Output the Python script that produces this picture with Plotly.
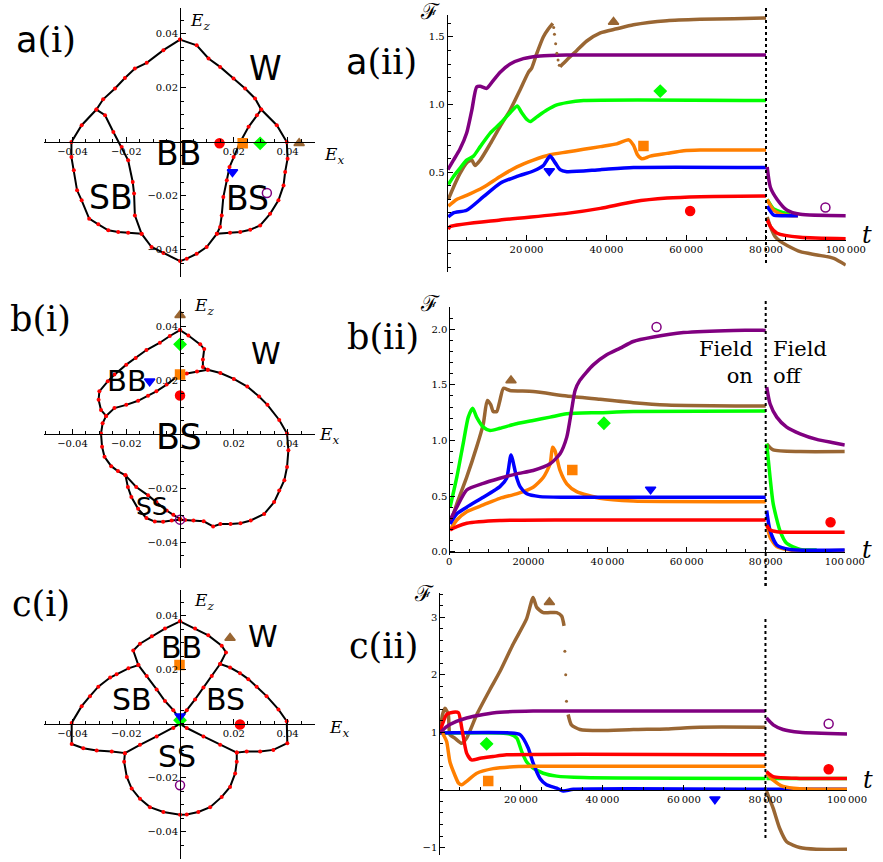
import plotly.graph_objects as go

W, H = 883, 862

RED = '#ff0000'
ORANGE = '#ff7f00'
GREEN = '#00ff00'
BLUE = '#0000ff'
PURPLE = '#800080'
BROWN = '#996633'

# order used for all field-point markers: red, orange, green, brown, blue, purple
MARKERS = [(RED, 'circle'), (ORANGE, 'square'), (GREEN, 'diamond'),
           (BROWN, 'triangle-up'), (BLUE, 'triangle-down'), (PURPLE, 'circle-open')]

# ---------------- a(i): phase boundaries (Ex, Ez) ----------------
a_outer = [(0, 0.0379), (-0.0062, 0.0340), (-0.0124, 0.0293), (-0.0168, 0.0272), (-0.0205, 0.0237),
           (-0.0242, 0.0198), (-0.0286, 0.0158), (-0.0311, 0.0120), (-0.0366, 0.0062), (-0.0404, 0),
           (-0.0404, -0.0056), (-0.0395, -0.0105), (-0.0383, -0.0179), (-0.0366, -0.0216),
           (-0.0338, -0.0284), (-0.0304, -0.0305), (-0.0267, -0.0327), (-0.0230, -0.0333),
           (-0.0193, -0.0336), (-0.0143, -0.0340), (-0.0106, -0.0389), (-0.0062, -0.0411),
           (0, -0.0441), (0.0025, -0.0432), (0.0062, -0.0414), (0.0099, -0.0389), (0.0137, -0.0340),
           (0.0186, -0.0336), (0.0224, -0.0333), (0.0261, -0.0325), (0.0298, -0.0309),
           (0.0335, -0.0266), (0.0366, -0.0216), (0.0385, -0.0161), (0.0391, -0.0111),
           (0.0400, -0.0062), (0.0397, 0), (0.0360, 0.0062), (0.0302, 0.0120), (0.0279, 0.0161),
           (0.0242, 0.0198), (0.0199, 0.0235), (0.0149, 0.0278), (0.0106, 0.0309),
           (0.0062, 0.0358), (0, 0.0379)]
a_inner_left = [(-0.0311, 0.0120), (-0.0279, 0.0099), (-0.0248, 0.0037), (-0.0217, -0.0019),
                (-0.0193, -0.0068), (-0.0176, -0.0148), (-0.0171, -0.0191), (-0.0168, -0.0272),
                (-0.0143, -0.0340)]
a_inner_right = [(0.0302, 0.0120), (0.0286, 0.0099), (0.0255, 0.0056), (0.0224, 0), (0.0199, -0.0056),
                 (0.0184, -0.0093), (0.0174, -0.0142), (0.0161, -0.0204), (0.0155, -0.0272),
                 (0.0149, -0.0315), (0.0137, -0.0340)]
a_pts_x = [0.0147, 0.0233, 0.0298, 0.0443, 0.0195, 0.0323]
a_pts_y = [-0.0005, -0.0005, -0.0005, -0.0005, -0.0111, -0.0189]

# ---------------- b(i) ----------------
b_outer = [(0, 0.0385), (0.0031, 0.0365), (0.0075, 0.0332), (0.0090, 0.0315), (0.0085, 0.0276),
           (0.0085, 0.0248), (0.0103, 0.0238), (0.0150, 0.0226), (0.0200, 0.0204), (0.0250, 0.0176),
           (0.0294, 0.0139), (0.0325, 0.0108), (0.0369, 0.0052), (0.0398, 0.0002), (0.0403, -0.0060),
           (0.0398, -0.0122), (0.0388, -0.0171), (0.0369, -0.0209), (0.0350, -0.0252),
           (0.0313, -0.0296), (0.0263, -0.0320), (0.0225, -0.0330), (0.0188, -0.0333),
           (0.0150, -0.0333), (0.0123, -0.0342), (0.0088, -0.0323), (0.0050, -0.0320),
           (0.0019, -0.0318), (0, -0.0317), (-0.0031, -0.0320), (-0.0063, -0.0325),
           (-0.0094, -0.0324), (-0.0125, -0.0311), (-0.0156, -0.0277), (-0.0181, -0.0233),
           (-0.0194, -0.0196), (-0.0203, -0.0153), (-0.0231, -0.0137), (-0.0256, -0.0119),
           (-0.0281, -0.0084), (-0.0290, -0.0047), (-0.0294, 0.0002), (-0.0288, 0.0040),
           (-0.0275, 0.0067), (-0.0294, 0.0089), (-0.0303, 0.0127), (-0.0300, 0.0158),
           (-0.0269, 0.0195), (-0.0244, 0.0220), (-0.0200, 0.0257), (-0.0165, 0.0282),
           (-0.0125, 0.0311), (-0.0075, 0.0338), (-0.0038, 0.0363), (0, 0.0385)]
b_inner_bb = [(-0.0275, 0.0067), (-0.0244, 0.0096), (-0.0200, 0.0108), (-0.0156, 0.0123),
              (-0.0119, 0.0142), (-0.0088, 0.0158), (-0.0050, 0.0183), (-0.0013, 0.0211),
              (0.0025, 0.0224), (0.0063, 0.0232), (0.0103, 0.0238)]
b_inner_ss = [(-0.0203, -0.0153), (-0.0163, -0.0196), (-0.0119, -0.0227), (-0.0088, -0.0252),
              (-0.0050, -0.0283), (-0.0025, -0.0299), (0, -0.0314)]
b_pts_x = [0, 0, 0, 0, -0.0113, 0]
b_pts_y = [0.0143, 0.0220, 0.0332, 0.0440, 0.0195, -0.0317]

# ---------------- c(i) ----------------
c_outer = [(0, 0.0380), (0.0056, 0.0353), (0.0105, 0.0328), (0.0155, 0.0290), (0.0171, 0.0265),
           (0.0149, 0.0222), (0.0186, 0.0209), (0.0223, 0.0188), (0.0254, 0.0166), (0.0285, 0.0138),
           (0.0322, 0.0103), (0.0366, 0.0054), (0.0397, 0.0010), (0.0399, -0.0071),
           (0.0347, -0.0096), (0.0298, -0.0102), (0.0248, -0.0102), (0.0211, -0.0106),
           (0.0211, -0.0140), (0.0205, -0.0183), (0.0186, -0.0233), (0.0155, -0.0270),
           (0.0112, -0.0308), (0.0068, -0.0326), (0.0025, -0.0335), (0, -0.0336),
           (-0.0062, -0.0326), (-0.0112, -0.0308), (-0.0149, -0.0277), (-0.0180, -0.0239),
           (-0.0198, -0.0196), (-0.0208, -0.0140), (-0.0205, -0.0108), (-0.0254, -0.0102),
           (-0.0310, -0.0098), (-0.0360, -0.0090), (-0.0403, -0.0074), (-0.0403, 0.0004),
           (-0.0366, 0.0066), (-0.0335, 0.0103), (-0.0304, 0.0138), (-0.0260, 0.0172),
           (-0.0236, 0.0184), (-0.0192, 0.0206), (-0.0155, 0.0218), (-0.0174, 0.0272),
           (-0.0149, 0.0297), (-0.0105, 0.0325), (-0.0056, 0.0353), (0, 0.0380)]
c_inner_bb_left = [(-0.0155, 0.0218), (-0.0124, 0.0178), (-0.0087, 0.0128), (-0.0056, 0.0085),
                   (-0.0025, 0.0051), (0, 0.0016)]
c_inner_bb_right = [(0.0149, 0.0222), (0.0118, 0.0178), (0.0087, 0.0135), (0.0056, 0.0091),
                    (0.0025, 0.0051), (0, 0.0016)]
c_inner_ss_left = [(-0.0205, -0.0108), (-0.0149, -0.0077), (-0.0087, -0.0046), (-0.0025, -0.0015), (0, 0)]
c_inner_ss_right = [(0.0211, -0.0106), (0.0149, -0.0077), (0.0087, -0.0046), (0.0025, -0.0015), (0, 0)]
c_pts_x = [0.0223, -0.0002, 0, 0.0186, 0, 0]
c_pts_y = [-0.0002, 0.0218, 0.0014, 0.0318, 0.0029, -0.0227]

# ---------------- a(ii): F(t), None = field switched off ----------------
a_red = [(400, 0.08), (900, 0.10), (13400, 0.148), (30100, 0.197), (38500, 0.234), (46800, 0.283),
         (55200, 0.31), (63500, 0.32), (80000, 0.325), None,
         (80300, 0.15), (81100, 0.10), (82800, 0.05), (88600, 0.02), (100000, 0.01)]
a_orange = [(400, 0.25), (2500, 0.30), (5000, 0.33), (9200, 0.39), (13400, 0.47), (17600, 0.54),
            (21700, 0.59), (25900, 0.63), (30100, 0.65), (34300, 0.67), (38500, 0.69), (42600, 0.71),
            (45600, 0.74), (46800, 0.70), (47800, 0.63), (48900, 0.60), (51000, 0.62), (55200, 0.64),
            (59400, 0.66), (63500, 0.665), (80000, 0.665), None,
            (80300, 0.30), (81900, 0.22), (84400, 0.185), (88000, 0.18)]
a_green = [(400, 0.41), (1700, 0.47), (3300, 0.53), (5000, 0.59), (6700, 0.62), (8400, 0.69),
           (10900, 0.79), (13400, 0.86), (15900, 0.94), (17700, 0.99), (18800, 0.94), (20100, 0.89),
           (20900, 0.875), (22600, 0.91), (25100, 0.96), (27600, 0.998), (30100, 1.015),
           (34300, 1.03), (80000, 1.03), None,
           (80300, 0.30), (81900, 0.23), (83600, 0.21), (86000, 0.19)]
a_blue = [(400, 0.17), (1700, 0.20), (5000, 0.22), (9200, 0.32), (13400, 0.42), (17600, 0.47),
          (21700, 0.51), (24200, 0.55), (25900, 0.62), (27200, 0.57), (28400, 0.52), (30100, 0.505),
          (38500, 0.52), (46800, 0.535), (80000, 0.535), None,
          (80300, 0.25), (81900, 0.185), (84400, 0.18), (88000, 0.18)]
a_brown = [(400, 0.30), (1700, 0.39), (3300, 0.49), (5000, 0.57), (6300, 0.59), (7100, 0.55),
           (8400, 0.59), (10900, 0.71), (13400, 0.84), (15900, 0.96), (18400, 1.11), (20500, 1.24),
           (21300, 1.27), (22600, 1.38), (24200, 1.50), (25500, 1.56), (26600, 1.60), None,
           (28400, 1.28), (30100, 1.33), (32600, 1.40), (35100, 1.47), (38500, 1.53), (42600, 1.56),
           (46800, 1.59), (55200, 1.62), (63500, 1.63), (71900, 1.635), (80000, 1.64), None,
           (80300, 0.17), (81100, 0.10), (82300, 0.025), (83600, -0.01), (85300, -0.04),
           (88600, -0.086), (92800, -0.11), (97000, -0.135), (100000, -0.185)]
a_brown_drop = [(26800, 1.57), (27000, 1.52), (27300, 1.45), (27600, 1.38), (27900, 1.33), (28200, 1.29)]
a_purple = [(300, 0.52), (1700, 0.59), (3300, 0.67), (5000, 0.79), (6300, 0.96), (7500, 1.13),
            (8400, 1.135), (10000, 1.12), (11700, 1.18), (13400, 1.24), (15900, 1.30), (19200, 1.34),
            (23400, 1.36), (30000, 1.367), (80000, 1.367), None,
            (80300, 0.54), (81100, 0.39), (82800, 0.30), (85300, 0.22), (88600, 0.19), (100000, 0.18)]
a_mark_t = [61000, 49300, 53500, 41800, 25700, 94900]
a_mark_f = [0.214, 0.695, 1.10, 1.61, 0.51, 0.24]

# ---------------- b(ii) ----------------
b_red = [(200, 0.195), (1900, 0.225), (4400, 0.255), (12800, 0.28), (29700, 0.285), (80000, 0.285), None,
         (80250, 0.24), (81100, 0.195), (82800, 0.18), (100000, 0.175)]
b_orange = [(200, 0.195), (1900, 0.285), (4400, 0.36), (8600, 0.42), (12800, 0.48), (17000, 0.52),
            (21200, 0.58), (23800, 0.67), (25500, 0.79), (26100, 0.94), (26700, 0.91), (28000, 0.73),
            (29700, 0.61), (32200, 0.54), (38100, 0.48), (46500, 0.455), (80000, 0.45), None,
            (80250, 0.25), (81100, 0.13), (82800, 0.045), (86200, 0.015), (100000, 0.01)]
b_green = [(200, 0.40), (1900, 0.67), (3500, 0.97), (4800, 1.21), (5900, 1.29), (6900, 1.21),
           (8600, 1.12), (10300, 1.09), (12800, 1.11), (17000, 1.15), (21200, 1.18), (25500, 1.21),
           (29700, 1.24), (38100, 1.25), (46500, 1.26), (80000, 1.265), None,
           (80250, 0.97), (81100, 0.67), (81900, 0.43), (83600, 0.19), (85300, 0.075), (88700, 0.02),
           (92900, 0.015)]
b_blue = [(200, 0.25), (1900, 0.34), (4400, 0.40), (8600, 0.49), (12800, 0.585), (14500, 0.66),
          (15600, 0.87), (17000, 0.67), (17900, 0.585), (19600, 0.52), (22900, 0.495), (29700, 0.49),
          (80000, 0.49), None,
          (80250, 0.37), (81100, 0.19), (82800, 0.06), (86200, 0.02), (100000, 0.015)]
b_brown = [(200, 0.25), (1900, 0.43), (4400, 0.67), (6900, 0.94), (8600, 1.15), (9600, 1.36),
           (10500, 1.32), (11100, 1.26), (12000, 1.26), (12800, 1.36), (13700, 1.47), (15300, 1.45),
           (21200, 1.44), (29700, 1.40), (38100, 1.37), (46500, 1.34), (55000, 1.32), (80000, 1.31), None,
           (80250, 0.97), (81900, 0.915), (88700, 0.90), (100000, 0.90)]
b_purple = [(200, 0.285), (1900, 0.40), (4400, 0.555), (8600, 0.615), (12800, 0.66), (17000, 0.70),
            (21200, 0.73), (25500, 0.79), (28000, 0.88), (29700, 1.03), (30900, 1.27), (31800, 1.45),
            (33000, 1.54), (36400, 1.68), (39800, 1.77), (43200, 1.83), (46500, 1.89), (51600, 1.93),
            (59200, 1.97), (71800, 1.99), (80000, 1.99), None,
            (80250, 1.48), (81100, 1.33), (82800, 1.21), (85300, 1.12), (88700, 1.06), (92900, 1.01),
            (97100, 0.98), (100000, 0.96)]
b_mark_t = [96400, 31100, 39100, 15600, 50900, 52400]
b_mark_f = [0.264, 0.735, 1.155, 1.54, 0.56, 2.02]

# ---------------- c(ii) ----------------
c_green = [(200, 0.99), (14900, 0.99), (17300, 0.97), (19000, 0.90), (20200, 0.67), (21400, 0.49),
           (23000, 0.38), (25500, 0.29), (28800, 0.24), (35300, 0.215), (80000, 0.20), None,
           (80250, 0.20), (100000, 0.20)]
c_blue = [(200, 0.99), (17300, 0.99), (19800, 0.96), (21800, 0.73), (23000, 0.47), (24700, 0.20),
          (26300, 0.09), (28800, 0.03), (30400, -0.02), (32900, 0.01), (80000, 0.01), None,
          (80250, 0.01), (100000, 0.01)]
c_orange = [(200, 1.08), (1000, 0.96), (1800, 0.84), (2600, 0.49), (3800, 0.26), (4700, 0.12),
            (5500, 0.09), (6700, 0.15), (9200, 0.29), (13200, 0.37), (17300, 0.40), (23000, 0.41),
            (80000, 0.41), None,
            (80250, 0.29), (81900, 0.17), (84300, 0.06), (88400, 0.02), (100000, 0.01)]
c_red = [(200, 1.02), (1800, 1.31), (3400, 1.35), (4700, 1.34), (5500, 1.08), (6700, 0.64),
         (7900, 0.52), (10000, 0.55), (13200, 0.58), (16500, 0.61), (80000, 0.61), None,
         (80250, 0.32), (81900, 0.23), (88400, 0.20), (100000, 0.20)]
c_brown = [(200, 1.02), (800, 1.31), (1400, 1.42), (2200, 1.31), (2600, 0.96), (3800, 0.90),
           (5500, 0.81), (6700, 0.90), (9200, 1.31), (12400, 1.74), (14900, 2.06), (18100, 2.53),
           (21400, 2.97), (23000, 3.34), (23900, 3.17), (25500, 3.08), (28800, 3.08), (30000, 3.02),
           (30600, 2.85), None,
           (31600, 1.31), (32400, 1.13), (34500, 1.05), (39400, 1.03), (47600, 1.05), (55700, 1.06),
           (63900, 1.09), (80000, 1.09), None,
           (80250, -0.02), (81900, -0.32), (83500, -0.67), (85200, -0.90), (88400, -1.0),
           (92500, -1.03), (100000, -1.03)]
c_brown_drop = [(30800, 2.41), (31000, 2.0), (31200, 1.54)]
c_purple = [(200, 0.99), (1800, 1.10), (4200, 1.19), (6700, 1.25), (10800, 1.31), (14900, 1.35),
            (23000, 1.37), (80000, 1.37), None,
            (80250, 1.25), (81900, 1.13), (84300, 1.05), (88400, 1.00), (100000, 0.97)]
c_mark_t = [95500, 12000, 11600, 27000, 67600, 95500]
c_mark_f = [0.36, 0.157, 0.80, 3.26, -0.16, 1.15]


def unzip(seq):
    xs, ys = [], []
    for p in seq:
        if p is None:
            xs.append(None)
            ys.append(None)
        else:
            xs.append(p[0])
            ys.append(p[1])
    return xs, ys


def fx(px):
    return px / W


def fy(px):
    return 1 - px / H


# panel boxes in pixels (left, right, top, bottom) and data ranges
panels = {
    1: dict(box=(44, 315, 8, 277), xr=(-0.0506, 0.0502), yr=(-0.050, 0.0496)),
    2: dict(box=(446.7, 845.8, 15, 272), xr=(0, 100000), yr=(-0.236, 1.662)),
    3: dict(box=(44, 315, 299, 568), xr=(-0.0506, 0.0502), yr=(-0.0496, 0.050)),
    4: dict(box=(449.3, 844.8, 306.7, 555), xr=(0, 100000), yr=(-0.03, 2.203)),
    5: dict(box=(44, 315, 590, 859), xr=(-0.0506, 0.0502), yr=(-0.050, 0.0496)),
    6: dict(box=(439.3, 847, 593, 855), xr=(0, 100000), yr=(-1.13, 3.42)),
}

left_ticks = [-0.04, -0.02, 0.02, 0.04]
left_text_x = ['\u22120.04', '\u22120.02', '0.02', '0.04']
left_text_y = ['\u22120.04', '\u22120.02', '0.02', '0.04']
t_ticks = [20000, 40000, 60000, 80000, 100000]
t_text = ['20\u2009000', '40\u2009000', '60\u2009000', '80\u2009000', '100\u2009000']
tick_spec = {
    1: dict(x=(left_ticks, left_text_x, 0.005), y=(left_ticks, left_text_y, 0.005)),
    3: dict(x=(left_ticks, left_text_x, 0.005), y=(left_ticks, left_text_y, 0.005)),
    5: dict(x=(left_ticks, left_text_x, 0.005), y=(left_ticks, left_text_y, 0.005)),
    2: dict(x=(t_ticks, t_text, 5000), y=([0.5, 1.0, 1.5], ['0.5', '1.0', '1.5'], 0.1)),
    4: dict(x=([0] + t_ticks, ['0', '20000'] + t_text[1:], 5000),
            y=([0, 0.5, 1.0, 1.5, 2.0], ['0.0', '0.5', '1.0', '1.5', '2.0'], 0.1)),
    6: dict(x=(t_ticks, t_text, 5000), y=([-1, 1, 2, 3], ['\u22121', '1', '2', '3'], 0.2)),
}

fig = go.Figure()
layout = dict(width=W, height=H, margin=dict(l=0, r=0, t=0, b=0),
              paper_bgcolor='white', plot_bgcolor='white', showlegend=False)

for k, p in panels.items():
    x0, x1, y0, y1 = p['box']
    xd = [fx(x0), fx(x1)]
    yd = [fy(y1), fy(y0)]
    xr, yr = p['xr'], p['yr']
    xpos = yd[0] + (0 - yr[0]) / (yr[1] - yr[0]) * (yd[1] - yd[0])
    ypos = xd[0] + (0 - xr[0]) / (xr[1] - xr[0]) * (xd[1] - xd[0])
    common = dict(anchor='free', showline=True, linecolor='black', linewidth=1,
                  ticks='inside', ticklen=5, tickwidth=1, tickcolor='black',
                  tickmode='array', tickfont=dict(family='DejaVu Serif', size=10, color='black'),
                  showgrid=False, zeroline=False, fixedrange=True, automargin=False)
    tv, tt, md = tick_spec[k]['x']
    layout['xaxis' if k == 1 else f'xaxis{k}'] = dict(
        common, domain=xd, range=list(xr), position=xpos, tickvals=tv, ticktext=tt,
        minor=dict(ticks='inside', ticklen=3, dtick=md, tick0=0, tickcolor='black', showgrid=False))
    tv, tt, md = tick_spec[k]['y']
    layout['yaxis' if k == 1 else f'yaxis{k}'] = dict(
        common, domain=yd, range=list(yr), position=ypos, tickvals=tv, ticktext=tt,
        minor=dict(ticks='inside', ticklen=3, dtick=md, tick0=0, tickcolor='black', showgrid=False))


def ax(k):
    return ('x' if k == 1 else f'x{k}'), ('y' if k == 1 else f'y{k}')


# phase diagrams
boundaries = {1: [a_outer, a_inner_left, a_inner_right],
              3: [b_outer, b_inner_bb, b_inner_ss],
              5: [c_outer, c_inner_bb_left, c_inner_bb_right, c_inner_ss_left, c_inner_ss_right]}
for k, segs in boundaries.items():
    xa, ya = ax(k)
    for seg in segs:
        xs, ys = unzip(seg)
        fig.add_trace(go.Scatter(x=xs, y=ys, mode='lines+markers', xaxis=xa, yaxis=ya,
                                 line=dict(color='black', width=2),
                                 marker=dict(color=RED, size=4), hoverinfo='skip'))

points = {1: (a_pts_x, a_pts_y), 3: (b_pts_x, b_pts_y), 5: (c_pts_x, c_pts_y),
          2: (a_mark_t, a_mark_f), 4: (b_mark_t, b_mark_f), 6: (c_mark_t, c_mark_f)}

# time series
series = {2: [(a_brown, BROWN), (a_green, GREEN), (a_orange, ORANGE), (a_blue, BLUE), (a_red, RED), (a_purple, PURPLE)],
          4: [(b_brown, BROWN), (b_green, GREEN), (b_orange, ORANGE), (b_blue, BLUE), (b_red, RED), (b_purple, PURPLE)],
          6: [(c_brown, BROWN), (c_green, GREEN), (c_blue, BLUE), (c_orange, ORANGE), (c_red, RED), (c_purple, PURPLE)]}
drops = {2: a_brown_drop, 6: c_brown_drop}
for k, lst in series.items():
    xa, ya = ax(k)
    for seq, col in lst:
        xs, ys = unzip(seq)
        fig.add_trace(go.Scatter(x=xs, y=ys, mode='lines', xaxis=xa, yaxis=ya,
                                 line=dict(color=col, width=3.5, shape='spline', smoothing=0.6),
                                 connectgaps=False, hoverinfo='skip'))
    if k in drops:
        xs, ys = unzip(drops[k])
        fig.add_trace(go.Scatter(x=xs, y=ys, mode='markers', xaxis=xa, yaxis=ya,
                                 marker=dict(color=BROWN, size=3), hoverinfo='skip'))

for k, (px_, py_) in points.items():
    xa, ya = ax(k)
    for i, (col, sym) in enumerate(MARKERS):
        fig.add_trace(go.Scatter(x=[px_[i]], y=[py_[i]], mode='markers', xaxis=xa, yaxis=ya,
                                 cliponaxis=False,
                                 marker=dict(color=col, symbol=sym, size=9,
                                             line=dict(color=col, width=1.5)),
                                 hoverinfo='skip'))

# field switch-off lines
shapes = []
for k, (top, bot) in {2: (8, 263), 4: (299, 586), 6: (618, 838)}.items():
    shapes.append(dict(type='line', xref=ax(k)[0], yref='paper', x0=80000, x1=80000,
                       y0=fy(bot), y1=fy(top), line=dict(color='black', width=2, dash='dot')))
shapes.append(dict(type='line', xref='x6', yref='paper', x0=80000, x1=80000,
                   y0=fy(586), y1=fy(575), line=dict(color='black', width=2, dash='dot')))
layout['shapes'] = shapes

anns = []


def ann(text, x, y, size, family='DejaVu Sans', xanchor='center', align='center'):
    anns.append(dict(text=text, x=fx(x), y=fy(y), xref='paper', yref='paper', showarrow=False,
                     xanchor=xanchor, yanchor='middle', align=align,
                     font=dict(family=family, size=size, color='black')))


SERIF = 'DejaVu Serif'
# panel labels
ann('<span style="font-family:DejaVu Sans">a</span>(i)', 46, 40, 35, SERIF)
ann('<span style="font-family:DejaVu Sans">a</span>(ii)', 381, 62, 35, SERIF)
ann('b(i)', 40, 319, 35, SERIF)
ann('b(ii)', 383, 337, 35, SERIF)
ann('c(i)', 41, 604, 35, SERIF)
ann('c(ii)', 383, 646, 35, SERIF)

# region labels
for txt, x, y, s in [('W', 265, 68, 33), ('BB', 178, 153, 33), ('SB', 111, 197, 33), ('BS', 247, 199, 33),
                     ('W', 266, 354, 30), ('BB', 127, 381, 29), ('BS', 179, 437, 35), ('SS', 152, 506, 25),
                     ('W', 263, 636, 30), ('BB', 181, 647, 30), ('SB', 132, 699, 30), ('BS', 225, 699, 30),
                     ('SS', 177, 756, 30)]:
    ann(txt, x, y, s)

# axis labels
EZ = '<i>E</i><sub><i>z</i></sub>'
EX = '<i>E</i><sub><i>x</i></sub>'
for txt, x, y in [(EZ, 188, 22), (EX, 322, 155), (EZ, 192, 307), (EX, 317, 435),
                  (EZ, 192, 601), (EX, 327, 728)]:
    ann(txt, x, y, 17, SERIF, xanchor='left')
for x, y in [(430, 12), (430, 303), (424, 593)]:
    ann('\u2131', x, y, 22, SERIF)
for x, y in [(867, 235), (867, 550), (868, 780)]:
    ann('<i>t</i>', x, y, 24, SERIF)

ann('Field<br>on', 755, 362, 21, SERIF, xanchor='right', align='right')
ann('Field<br>off', 771, 362, 21, SERIF, xanchor='left', align='left')

layout['annotations'] = anns
fig.update_layout(**layout)

fig.write_html("out.html", post_script="document.body.style.margin='0';",
               config=dict(displayModeBar=False))
